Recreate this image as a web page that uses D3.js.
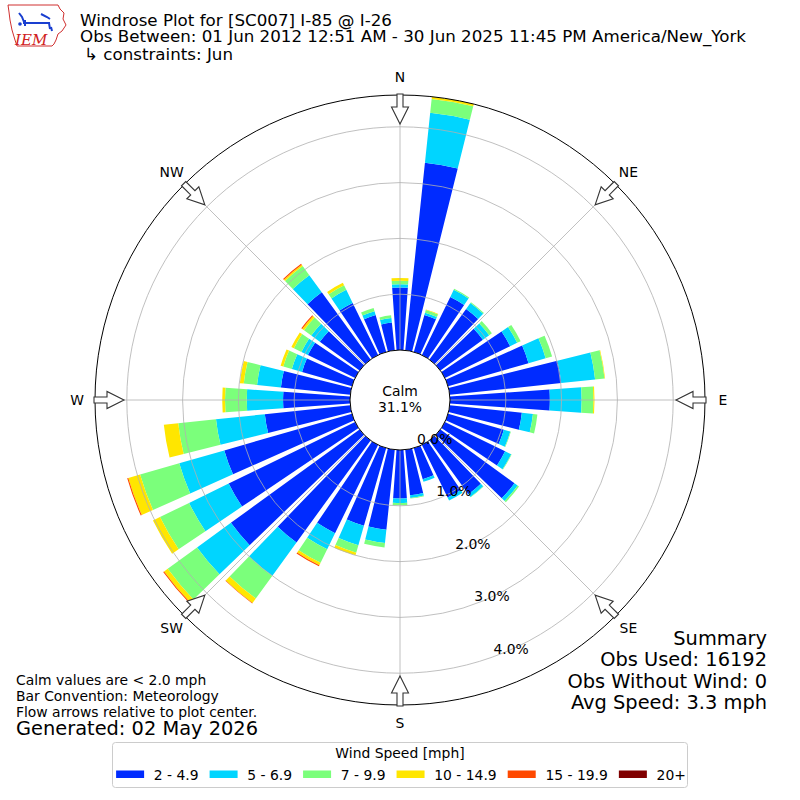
<!DOCTYPE html>
<html>
<head>
<meta charset="utf-8">
<script src="https://cdn.jsdelivr.net/npm/d3@7"></script>
<style>
  html, body { margin: 0; padding: 0; background: #fff; }
  svg { display: block; }
  text { font-family: "DejaVu Sans", sans-serif; fill: #000; }
</style>
</head>
<body>
<svg id="chart" width="800" height="800"></svg>
<script>
// ---------------- data ----------------
const directions = d3.range(0, 360, 10); // degrees, meteorological
const binLabels = ["2 - 4.9", "5 - 6.9", "7 - 9.9", "10 - 14.9", "15 - 19.9", "20+"];
const binColors = ["#002bff", "#00d5ff", "#7bff7b", "#ffe600", "#ff4900", "#800000"];
// frequency (%) per direction for each speed bin
const bin2to5   = [1.12,3.38,0.69,1.16,1.12,0.94,1.30,1.50,2.01,1.79,1.30,1.04,1.20,1.64,1.19,1.05,0.58,0.82,
                   0.87,1.44,1.45,1.76,2.26,2.85,2.52,2.38,1.54,1.20,1.25,0.93,0.94,0.88,1.49,1.04,0.69,0.50];
const bin5to7   = [0.06,0.90,0.04,0.14,0.13,0.14,0.14,0.32,0.61,0.57,0.20,0.12,0.12,0.07,0.06,0.06,0.05,0.05,
                   0.08,0.24,0.36,0.32,0.74,0.75,0.79,0.84,0.88,0.65,0.43,0.19,0.13,0.19,0.38,0.26,0.07,0.08];
const bin7to10  = [0.06,0.25,0.05,0.02,0.02,0.06,0.07,0.12,0.17,0.21,0.08,0.01,0.01,0.03,0.01,0.00,0.00,0.01,
                   0.04,0.08,0.14,0.27,0.50,0.65,0.58,0.73,0.68,0.39,0.24,0.16,0.15,0.16,0.20,0.09,0.06,0.05];
const bin10to15 = [0.05,0.04,0.01,0.00,0.00,0.00,0.00,0.00,0.01,0.02,0.00,0.00,0.00,0.00,0.00,0.00,0.00,0.00,
                   0.00,0.00,0.05,0.05,0.10,0.08,0.14,0.22,0.26,0.05,0.07,0.05,0.05,0.04,0.03,0.05,0.00,0.00];
const bin15to20 = [0,0,0,0,0,0,0,0,0,0,0,0,0,0,0,0,0,0,
                   0,0,0,0.02,0.01,0.02,0,0.02,0,0,0,0,0,0.02,0.02,0,0,0];
const bin20plus = [0,0,0,0,0,0,0,0,0,0,0,0,0,0,0,0,0,0,
                   0,0,0,0,0,0,0,0,0,0,0,0,0,0,0,0,0,0];
const seriesList = [bin2to5, bin5to7, bin7to10, bin10to15, bin15to20, bin20plus];
const radialTicks = [0, 1, 2, 3, 4];
const compassLabels = ["N", "NE", "E", "SE", "S", "SW", "W", "NW"];
const calmPct = "31.1%";
const titleLines = ["Windrose Plot for [SC007] I-85 @ I-26",
                    "Obs Between: 01 Jun 2012 12:51 AM - 30 Jun 2025 11:45 PM America/New_York",
                    "\u21b3 constraints: Jun"];
const noteLines = ["Calm values are < 2.0 mph", "Bar Convention: Meteorology", "Flow arrows relative to plot center."];
const generatedText = "Generated: 02 May 2026";
const summaryLines = ["Summary", "Obs Used: 16192", "Obs Without Wind: 0", "Avg Speed: 3.3 mph"];
const rMax = 4.57;

// ---------------- layout ----------------
const svg = d3.select("#chart");
const cx = 400, cy = 400;
const rCalm = 50, rOuter = 305;
const r = d3.scaleLinear().domain([0, rMax]).range([rCalm, rOuter]);
const rad = d => d * Math.PI / 180;
const g = svg.append("g").attr("transform", `translate(${cx},${cy})`);

// stacked data
const stacked = directions.map((d, i) => {
  let cum = 0;
  return seriesList.map((s, k) => {
    const lo = cum; cum += s[i];
    return { dir: d, k, lo, hi: cum };
  }).filter(o => o.hi > o.lo);
}).flat();

const halfW = 4; // degrees
const arc = d3.arc()
  .innerRadius(o => r(o.lo))
  .outerRadius(o => r(o.hi))
  .startAngle(o => rad(o.dir - halfW))
  .endAngle(o => rad(o.dir + halfW));

g.append("g").selectAll("path").data(stacked).join("path")
  .attr("d", arc)
  .attr("fill", o => binColors[o.k]);

// grid rings
g.append("g").selectAll("circle").data(radialTicks.filter(t => t > 0)).join("circle")
  .attr("r", t => r(t)).attr("fill", "none")
  .attr("stroke", "#b0b0b0").attr("stroke-width", 0.8);

// spokes
g.append("g").selectAll("line").data(d3.range(0, 360, 45)).join("line")
  .attr("x1", a => rCalm * Math.sin(rad(a))).attr("y1", a => -rCalm * Math.cos(rad(a)))
  .attr("x2", a => rOuter * Math.sin(rad(a))).attr("y2", a => -rOuter * Math.cos(rad(a)))
  .attr("stroke", "#b0b0b0").attr("stroke-width", 0.8);

// outer circle
g.append("circle").attr("r", rOuter).attr("fill", "none").attr("stroke", "#000").attr("stroke-width", 1);

// calm circle
g.append("circle").attr("r", rCalm).attr("fill", "#fff").attr("stroke", "#000").attr("stroke-width", 1);
g.append("text").attr("x", 0).attr("y", -9).attr("text-anchor", "middle").attr("dominant-baseline", "central")
  .style("font-size", "13.9px").text("Calm");
g.append("text").attr("x", 0).attr("y", 7).attr("text-anchor", "middle").attr("dominant-baseline", "central")
  .style("font-size", "13.9px").text(calmPct);

// radial tick labels
const labAng = rad(160);
g.append("g").selectAll("text").data(radialTicks).join("text")
  .attr("x", t => r(t) * Math.sin(labAng))
  .attr("y", t => -r(t) * Math.cos(labAng) - 3)
  .attr("text-anchor", "start")
  .style("font-size", "13.9px")
  .text(t => t.toFixed(1) + "%");

// compass labels
g.append("g").selectAll("text").data(compassLabels).join("text")
  .attr("x", (t, i) => 323 * Math.sin(rad(i * 45)))
  .attr("y", (t, i) => -323 * Math.cos(rad(i * 45)))
  .attr("text-anchor", "middle").attr("dominant-baseline", "central")
  .style("font-size", "13.9px").text(t => t);

// flow arrows
const arrowShape = [[306, -3], [293, -3], [293, -8.5], [276, 0], [293, 8.5], [293, 3], [306, 3]];
g.append("g").selectAll("path").data(d3.range(0, 360, 45)).join("path")
  .attr("d", a => {
    const t = rad(a);
    const ux = Math.sin(t), uy = -Math.cos(t), px = Math.cos(t), py = Math.sin(t);
    return "M" + arrowShape.map(([u, w]) => [(u * ux + w * px).toFixed(2), (u * uy + w * py).toFixed(2)].join(",")).join("L") + "Z";
  })
  .attr("fill", "#fff").attr("stroke", "#333").attr("stroke-width", 1.1).attr("stroke-linejoin", "miter");

// titles
const tg = svg.append("g");
const titleY = [26, 42, 60];
const titleX = [80, 80, 84];
titleLines.forEach((t, i) => {
  tg.append("text").attr("x", titleX[i]).attr("y", titleY[i]).style("font-size", "16.7px").text(t);
});

// notes
noteLines.forEach((t, i) => {
  svg.append("text").attr("x", 16).attr("y", 685 + i * 16).style("font-size", "13.9px").text(t);
});
svg.append("text").attr("x", 16).attr("y", 735).style("font-size", "19.4px").text(generatedText);

// summary
summaryLines.forEach((t, i) => {
  svg.append("text").attr("x", 767).attr("y", 645 + i * 21.4).attr("text-anchor", "end")
    .style("font-size", "19.4px").text(t);
});

// legend
const lg = svg.append("g");
lg.append("rect").attr("x", 112.5).attr("y", 742.5).attr("width", 575).attr("height", 45)
  .attr("rx", 3).attr("fill", "#fff").attr("stroke", "#cccccc").attr("stroke-width", 1);
lg.append("text").attr("x", 400).attr("y", 753).attr("text-anchor", "middle").attr("dominant-baseline", "central")
  .style("font-size", "13.9px").text("Wind Speed [mph]");
const items = lg.append("g");
const sw = 28, pad = 9.7, gap = 11;
let xpos = 0;
binLabels.forEach((lab, i) => {
  items.append("rect").attr("x", xpos).attr("y", 770.5).attr("width", sw).attr("height", 7.5).attr("fill", binColors[i]);
  const tx = items.append("text").attr("x", xpos + sw + pad).attr("y", 774.5)
    .attr("dominant-baseline", "central").style("font-size", "13.9px").text(lab);
  const w = tx.node().getComputedTextLength();
  xpos += sw + pad + w + gap;
});
const rowW = xpos - gap;
items.attr("transform", `translate(${401 - rowW / 2},0)`);

// IEM logo (approximate)
const logo = svg.append("g");
logo.append("path")
  .attr("d", "M8,5 L58,5 L60,9 L64,13 L63,19 L66,25 L62,31 L58,34 L56,40 L54,44 L52,46 L17,46 L15,40 L12,30 L10,20 L9,12 Z")
  .attr("fill", "#fff").attr("stroke", "#d03030").attr("stroke-width", 1);
logo.append("text").attr("x", 15).attr("y", 45)
  .style("font-family", "'DejaVu Serif', 'Liberation Serif', serif").style("font-style", "italic")
  .style("font-size", "15px").style("fill", "#d02020").text("IEM");
logo.append("path").attr("d", "M23,23 L50,23 M25,20 L25,26 M19,13 L22,17 L24,22 M41,14 L47,17 L50,19 M49,23 L50,29 M51,27 L52,31")
  .attr("fill", "none").attr("stroke", "#1a3fd0").attr("stroke-width", 2);
logo.append("circle").attr("cx", 20).attr("cy", 24).attr("r", 1.8).attr("fill", "#1a3fd0");
</script>
</body>
</html>
